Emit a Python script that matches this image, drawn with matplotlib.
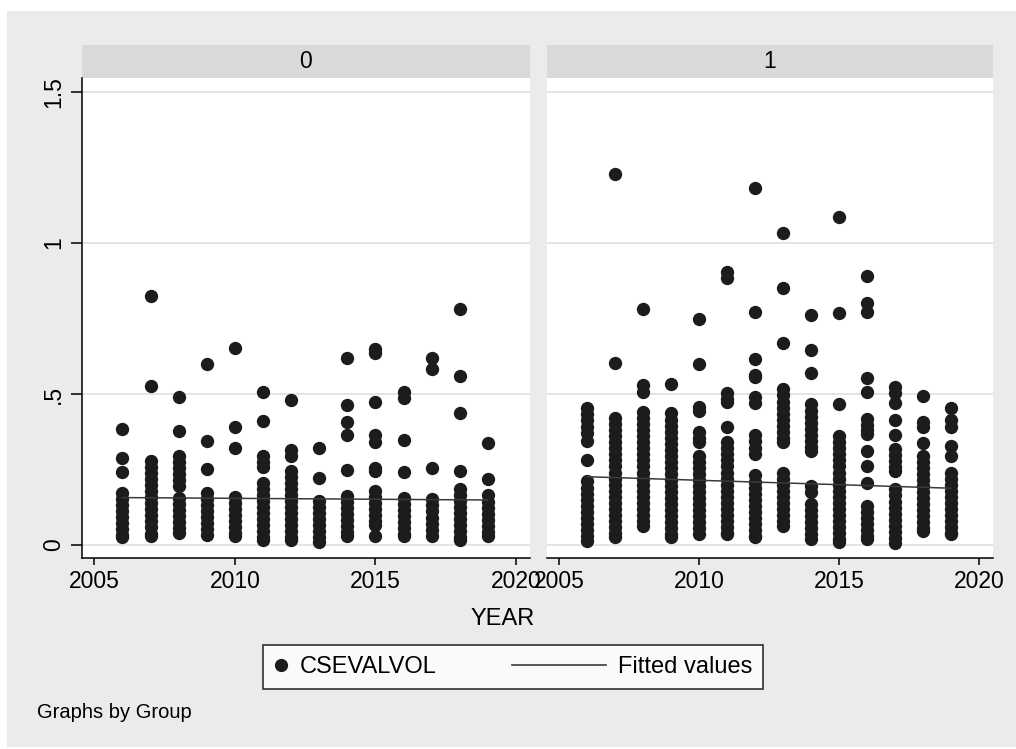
import numpy as np
import matplotlib
matplotlib.use('Agg')
import matplotlib.pyplot as plt
from matplotlib.lines import Line2D
from matplotlib.patches import Rectangle
from matplotlib.legend_handler import HandlerLine2D

plt.rcParams['font.family'] = ['Liberation Sans', 'DejaVu Sans']

years = [2006, 2007, 2008, 2009, 2010, 2011, 2012, 2013, 2014, 2015, 2016, 2017, 2018, 2019]
groups = ['0', '1']

# CSEVALVOL per year, Group 0
vol_g0 = [
    [0.383, 0.287, 0.243, 0.173, 0.153, 0.133, 0.113, 0.093, 0.073, 0.053, 0.033, 0.025],
    [0.824, 0.526, 0.278, 0.258, 0.238, 0.218, 0.198, 0.178, 0.158, 0.138, 0.118, 0.098, 0.078, 0.058, 0.038, 0.031],
    [0.489, 0.379, 0.295, 0.275, 0.255, 0.235, 0.215, 0.195, 0.155, 0.135, 0.115, 0.095, 0.075, 0.055, 0.04],
    [0.599, 0.344, 0.252, 0.173, 0.153, 0.133, 0.113, 0.093, 0.073, 0.053, 0.033],
    [0.651, 0.392, 0.320, 0.16, 0.14, 0.12, 0.10, 0.08, 0.06, 0.04, 0.031],
    [0.508, 0.411, 0.295, 0.275, 0.258, 0.205, 0.185, 0.165, 0.145, 0.125, 0.105, 0.085, 0.065, 0.045, 0.025, 0.015],
    [0.480, 0.315, 0.295, 0.245, 0.225, 0.205, 0.185, 0.165, 0.145, 0.125, 0.105, 0.085, 0.065, 0.045, 0.025, 0.015],
    [0.322, 0.223, 0.146, 0.126, 0.106, 0.086, 0.066, 0.046, 0.026, 0.01],
    [0.620, 0.464, 0.408, 0.364, 0.248, 0.162, 0.142, 0.122, 0.102, 0.082, 0.062, 0.042, 0.031],
    [0.648, 0.636, 0.472, 0.364, 0.342, 0.256, 0.244, 0.18, 0.16, 0.14, 0.12, 0.10, 0.08, 0.065, 0.03],
    [0.508, 0.486, 0.348, 0.243, 0.156, 0.136, 0.116, 0.096, 0.076, 0.056, 0.036, 0.031],
    [0.618, 0.583, 0.256, 0.151, 0.131, 0.111, 0.091, 0.071, 0.051, 0.031],
    [0.781, 0.561, 0.436, 0.246, 0.185, 0.165, 0.145, 0.125, 0.105, 0.085, 0.065, 0.045, 0.025, 0.015],
    [0.339, 0.217, 0.164, 0.144, 0.124, 0.104, 0.084, 0.064, 0.044, 0.031],
]

# CSEVALVOL per year, Group 1
vol_g1 = [
    [0.455, 0.435, 0.415, 0.39, 0.37, 0.345, 0.281, 0.212, 0.19, 0.17, 0.15, 0.13, 0.11, 0.09, 0.07, 0.05, 0.03, 0.012],
    [1.228, 0.604, 0.42, 0.40, 0.38, 0.36, 0.34, 0.32, 0.30, 0.28, 0.26, 0.24, 0.22, 0.20, 0.18, 0.16, 0.14, 0.12, 0.10, 0.08, 0.06, 0.04, 0.025],
    [0.781, 0.529, 0.506, 0.44, 0.42, 0.40, 0.38, 0.36, 0.34, 0.32, 0.30, 0.28, 0.26, 0.24, 0.22, 0.20, 0.18, 0.16, 0.14, 0.12, 0.10, 0.08, 0.064],
    [0.532, 0.436, 0.415, 0.395, 0.375, 0.355, 0.335, 0.315, 0.295, 0.275, 0.255, 0.235, 0.215, 0.195, 0.175, 0.155, 0.135, 0.115, 0.095, 0.075, 0.055, 0.035, 0.025],
    [0.748, 0.598, 0.458, 0.445, 0.375, 0.355, 0.34, 0.295, 0.275, 0.255, 0.235, 0.215, 0.195, 0.175, 0.155, 0.135, 0.115, 0.095, 0.075, 0.055, 0.035],
    [0.905, 0.883, 0.502, 0.485, 0.472, 0.392, 0.341, 0.32, 0.30, 0.28, 0.26, 0.24, 0.22, 0.20, 0.18, 0.16, 0.14, 0.12, 0.10, 0.08, 0.06, 0.04, 0.036],
    [1.183, 0.770, 0.615, 0.562, 0.555, 0.491, 0.469, 0.363, 0.343, 0.32, 0.30, 0.231, 0.21, 0.19, 0.17, 0.15, 0.13, 0.11, 0.09, 0.07, 0.05, 0.03, 0.025],
    [1.034, 0.852, 0.668, 0.516, 0.495, 0.475, 0.455, 0.435, 0.415, 0.395, 0.375, 0.355, 0.34, 0.24, 0.22, 0.20, 0.18, 0.16, 0.14, 0.12, 0.10, 0.08, 0.064],
    [0.762, 0.646, 0.571, 0.466, 0.445, 0.425, 0.405, 0.385, 0.365, 0.345, 0.325, 0.312, 0.195, 0.174, 0.135, 0.115, 0.095, 0.075, 0.055, 0.035, 0.02],
    [1.087, 0.767, 0.466, 0.361, 0.34, 0.32, 0.30, 0.28, 0.26, 0.24, 0.22, 0.20, 0.18, 0.16, 0.14, 0.12, 0.10, 0.08, 0.06, 0.04, 0.02, 0.009],
    [0.892, 0.800, 0.773, 0.552, 0.508, 0.416, 0.396, 0.38, 0.368, 0.311, 0.263, 0.204, 0.129, 0.11, 0.09, 0.07, 0.05, 0.03, 0.02],
    [0.524, 0.502, 0.469, 0.414, 0.364, 0.317, 0.297, 0.277, 0.257, 0.246, 0.184, 0.164, 0.144, 0.124, 0.104, 0.084, 0.064, 0.044, 0.024, 0.006],
    [0.493, 0.407, 0.39, 0.337, 0.295, 0.275, 0.255, 0.235, 0.215, 0.195, 0.175, 0.155, 0.135, 0.115, 0.095, 0.075, 0.055, 0.045],
    [0.455, 0.415, 0.39, 0.328, 0.296, 0.24, 0.22, 0.20, 0.18, 0.16, 0.14, 0.12, 0.10, 0.08, 0.06, 0.04, 0.036],
]

# fitted values at first and last year
fit_years = [2006, 2019]
fit_g0 = [0.157, 0.149]
fit_g1 = [0.226, 0.188]

xticks = [2005, 2010, 2015, 2020]
yticks = [0, 0.5, 1, 1.5]
ytick_labels = ['0', '.5', '1', '1.5']

dot_color = '#1c1c1c'
line_color = '#3a3a3a'
bg_color = '#ebebeb'
strip_color = '#d9d9d9'
grid_color = '#dcdcdc'
fs = 16.5


class LongLineHandler(HandlerLine2D):
    # legend line sticks out to the left of its (short) handle box
    def get_xdata(self, legend, xdescent, ydescent, width, height, fontsize):
        return (np.array([-xdescent - 3.4 * fontsize, -xdescent + width]),
                np.array([-xdescent + width / 2]))


fig = plt.figure(figsize=(10.16, 7.49), dpi=100, facecolor='white')
fig.patches.append(Rectangle((7 / 1016, 2 / 749), 1 - 7 / 1016, 1 - 13 / 749,
                             transform=fig.transFigure, facecolor=bg_color,
                             edgecolor='none', zorder=-10))

ax0 = fig.add_axes([82 / 1016, 1 - 558 / 749, 448 / 1016, 480 / 749])
ax1 = fig.add_axes([547 / 1016, 1 - 558 / 749, 446 / 1016, 480 / 749], sharey=ax0)

for ax, vols, fit, label in [(ax0, vol_g0, fit_g0, groups[0]), (ax1, vol_g1, fit_g1, groups[1])]:
    xs = []
    ys = []
    for yr, vals in zip(years, vols):
        xs += [yr] * len(vals)
        ys += vals
    ax.scatter(xs, ys, s=92, color=dot_color, linewidths=0, zorder=3)
    ax.plot(fit_years, fit, color=line_color, lw=1.1, zorder=4)

    ax.set_facecolor('white')
    ax.set_xlim(2004.56, 2020.5)
    ax.set_ylim(-0.043, 1.546)
    ax.set_xticks(xticks)
    ax.set_xticklabels([str(t) for t in xticks], fontsize=fs)
    ax.set_yticks(yticks)
    ax.yaxis.grid(True, color=grid_color, lw=1.1)
    ax.set_axisbelow(True)
    for s in ['top', 'right']:
        ax.spines[s].set_visible(False)
    ax.spines['bottom'].set_linewidth(1.1)
    ax.spines['left'].set_linewidth(1.1)
    ax.tick_params(axis='x', length=5, width=1.1, pad=4)

    # facet strip on top
    ax.add_patch(Rectangle((0, 1), 1, 33 / 480, transform=ax.transAxes,
                           facecolor=strip_color, edgecolor='none', clip_on=False))
    ax.text(0.5, 1 + 16.5 / 480, label, transform=ax.transAxes, ha='center',
            va='center', fontsize=fs)

ax0.set_yticklabels(ytick_labels, fontsize=fs, rotation=90, va='center')
ax0.tick_params(axis='y', length=8, width=1.1, pad=4)
ax1.spines['left'].set_visible(False)
ax1.tick_params(axis='y', left=False, labelleft=False)

fig.text(503 / 1016, 1 - 619 / 749, 'YEAR', ha='center', va='center', fontsize=17)

h_dot = Line2D([], [], marker='o', linestyle='none', color=dot_color, markersize=8.5)
h_fit = Line2D([], [], color=line_color, lw=1.2)
leg = fig.legend([h_dot, h_fit], ['CSEVALVOL', 'Fitted values'], ncol=2,
                 loc='center', bbox_to_anchor=(513 / 1016, 1 - 667 / 749),
                 fontsize=17, handlelength=0.6, handletextpad=0.5,
                 columnspacing=6.6, borderpad=0.45, fancybox=False,
                 handler_map={h_fit: LongLineHandler()})
leg.get_frame().set_edgecolor('black')
leg.get_frame().set_linewidth(1.2)
leg.get_frame().set_facecolor('white')

fig.text(37 / 1016, 1 - 713 / 749, 'Graphs by Group', ha='left', va='center', fontsize=14.5)

plt.savefig('out.png', dpi=100, facecolor=fig.get_facecolor())
plt.close()
